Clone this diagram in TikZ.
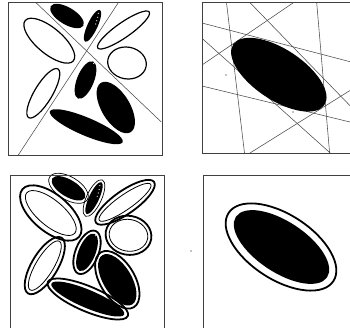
\documentclass[tikz,border=0pt]{standalone}
\begin{document}
\begin{tikzpicture}[x=1pt,y=-1pt]
\useasboundingbox[fill=white] (0,0) rectangle (350,327);
\tikzset{
  frame/.style={draw=black!75, line width=0.9pt},
  cut/.style={draw=black!70, line width=0.55pt},
  hollow/.style={draw=black, line width=1.2pt},
  blob/.style={fill=black},
  ring/.style={draw=black, line width=1.8pt},
  thinring/.style={draw=black, line width=0.7pt},
  speck/.style={fill=white},
  dot/.style={fill=black}
}
\newcommand\Ell[6]{\path[#1,shift={(#2,#3)},rotate=#6] (0,0) ellipse [x radius=#4pt,y radius=#5pt];}
\newcommand\Shapes{%
  \Ell{blob}{67}{16}{19}{8.5}{-31}
  \Ell{blob}{92.5}{25.8}{17.5}{5}{65}
  \Ell{hollow}{49.3}{40.7}{31.4}{12.9}{-40}
  \Ell{hollow}{123.5}{30}{31.4}{7.4}{35}
  \Ell{hollow}{127}{63}{19.4}{15.9}{-10}
  \Ell{blob}{85.5}{80}{20}{8.5}{68}
  \Ell{hollow}{43.3}{93.3}{28.4}{8.9}{59}
  \Ell{blob}{115.8}{107.5}{28.8}{14.2}{-59}
  \Ell{blob}{86.3}{126.7}{39.5}{9}{-23}
  \path[speck] (98.3,13.3) circle[radius=0.6pt] (97.7,17.3) circle[radius=0.6pt]
     (96.7,20.7) circle[radius=0.6pt] (95.7,24) circle[radius=0.6pt]
     (93.8,63.5) circle[radius=0.6pt];
}
% ---------- panel 1 ----------
\begin{scope}
  \clip (8.5,2.7) rectangle (162,155);
  \draw[cut] (36,2.7) -- (161.2,121.9);
  \draw[cut] (118.3,2.7) -- (18.3,155);
\end{scope}
\Shapes
\draw[frame] (8.5,2.7) rectangle (162,155);
% ---------- panel 2 ----------
\begin{scope}
  \clip (202,2.7) rectangle (351,153);
  \draw[cut] (226.5,2.7) -- (244.5,153);
  \draw[cut] (250,2.7) -- (350,105.7);
  \draw[cut] (293.3,2.7) -- (202,65);
  \draw[cut] (316.7,2.7) -- (329.6,153);
  \draw[cut] (202,23) -- (350,61.7);
  \draw[cut] (202,38.3) -- (330.2,153);
  \draw[cut] (202,86) -- (350,122);
  \draw[cut] (250,153) -- (350,90.5);
\end{scope}
\Ell{blob}{278.8}{74.7}{54.7}{25.4}{-33.5}
\path[dot] (226,75) circle[radius=0.7pt] (293,112) circle[radius=0.7pt];
\draw[frame] (351,2.7) -- (202,2.7) -- (202,153) -- (351,153);
% ---------- panel 3 ----------
\begin{scope}[shift={(1.5,172.3)}]
  \Ell{thinring}{67}{16}{22}{11.5}{-31}
  \Ell{thinring}{92.5}{25.8}{20}{7.5}{65}
  \Ell{ring}{49.3}{40.7}{37}{18.5}{-40}
  \Ell{ring}{123.5}{30}{35.5}{11.5}{35}
  \Ell{ring}{127}{63}{23}{19.5}{-10}
  \Ell{ring}{85.5}{80}{23}{11.5}{68}
  \Ell{ring}{43.3}{93.3}{32.5}{13}{59}
  \Ell{ring}{115.8}{107.5}{32}{17.4}{-59}
  \Ell{ring}{86.3}{126.7}{43.5}{12.5}{-23}
  \begin{scope}[hollow/.style={draw=black, line width=0.8pt}]
    \Shapes
  \end{scope}
\end{scope}
\draw[frame] (10,328) -- (10,175) -- (164.5,175) -- (164.5,328);
% ---------- panel 4 ----------
\Ell{ring}{281}{247}{62.5}{32.5}{-33}
\Ell{blob}{281.5}{247}{54.7}{25.4}{-33.5}
\path[dot] (191,251) circle[radius=0.7pt];
\draw[frame] (203.5,328) -- (203.5,175) -- (351,175);
\end{tikzpicture}
\end{document}
